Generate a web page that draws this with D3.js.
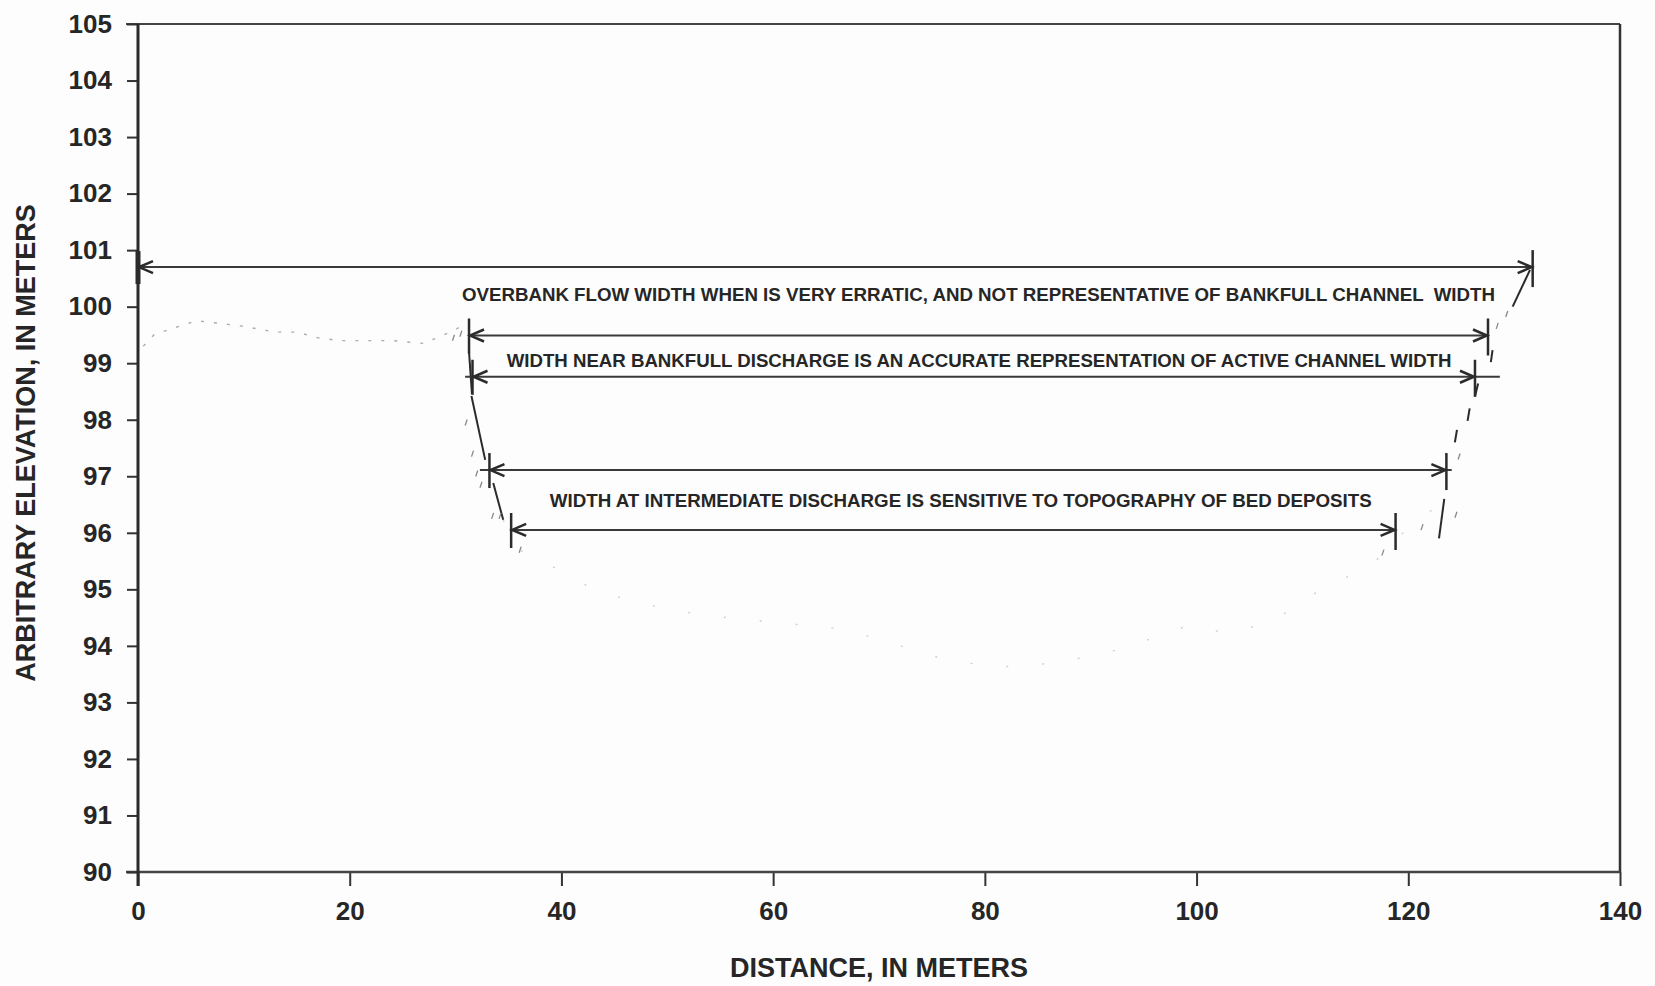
<!DOCTYPE html>
<html>
<head>
<meta charset="utf-8">
<script src="https://cdn.jsdelivr.net/npm/d3@7"></script>
<style>
  html, body { margin: 0; padding: 0; background: #fdfdfd; }
  svg { display: block; }
  text { font-family: "Liberation Sans", Arial, sans-serif; font-weight: bold; fill: #262626; }
</style>
</head>
<body>
<svg id="chart" width="1655" height="986"></svg>
<script>
// Axis ticks
const xTicks = [0, 20, 40, 60, 80, 100, 120, 140];
const yTicks = [90, 91, 92, 93, 94, 95, 96, 97, 98, 99, 100, 101, 102, 103, 104, 105];

// Surveyed cross-section: left floodplain and channel bed (distance m, elevation m)
const floodplainDist = [0.5, 1.5, 3, 5.5, 8, 10, 13, 15, 17, 19, 21, 24, 27, 29.5, 31];
const floodplainElev = [99.3, 99.5, 99.6, 99.75, 99.7, 99.65, 99.55, 99.55, 99.45, 99.4, 99.4, 99.4, 99.35, 99.55, 99.7];
const bedDist = [34.5, 36, 40, 43.5, 50, 54, 60, 66.5, 68.5, 76, 81, 87, 93, 99.4, 102.6, 106.1, 108.6, 111.1, 114, 116.6, 118.8, 121, 122.2];
const bedElev = [96.23, 95.7, 95.32, 94.95, 94.65, 94.53, 94.42, 94.3, 94.2, 93.77, 93.62, 93.7, 93.95, 94.37, 94.23, 94.37, 94.6, 94.92, 95.2, 95.43, 95.9, 96.2, 96.4];

// Inked bank lines, as [distance1, elev1, distance2, elev2]
const bankStrokes = [
  [31.27, 99.2, 31.55, 98.45],
  [31.5, 98.42, 32.8, 97.29],
  [33.56, 96.88, 34.5, 96.23],
  [131.5, 100.65, 129.86, 100.0],
  [127.96, 99.23, 127.8, 99.02],
  [126.6, 98.64, 126.3, 98.41],
  [125.8, 98.2, 125.6, 97.98],
  [124.6, 97.82, 124.4, 97.6],
  [123.4, 96.6, 122.9, 95.9]
];
const bankDots = [
  [29.8, 99.45], [30.5, 99.52], [31.0, 97.95], [31.6, 97.4], [32.0, 97.05], [32.4, 96.85],
  [33.5, 96.3], [34.2, 96.3], [36.1, 95.7], [129.3, 99.87], [128.4, 99.66], [124.8, 97.35],
  [124.5, 96.32], [121.3, 96.1], [117.6, 95.65]
];

// Flow widths: water-surface elevation and left/right edges (m)
const widthNames = ["overbank", "bankfull upper", "bankfull lower", "intermediate upper", "intermediate lower"];
const widthElev = [100.70, 99.49, 98.76, 97.11, 96.05];
const widthLeft = [0, 31.27, 31.6, 33.2, 35.25];
const widthRight = [131.75, 127.53, 126.3, 123.6, 118.8];
const lineLeft = [0, 31.27, 30.9, 32.3, 35.25];
const lineRight = [131.75, 127.53, 128.65, 124.1, 118.8];

// Annotation text
const notes = [
  "OVERBANK FLOW WIDTH WHEN IS VERY ERRATIC, AND NOT REPRESENTATIVE OF BANKFULL CHANNEL  WIDTH",
  "WIDTH NEAR BANKFULL DISCHARGE IS AN ACCURATE REPRESENTATION OF ACTIVE CHANNEL WIDTH",
  "WIDTH AT INTERMEDIATE DISCHARGE IS SENSITIVE TO TOPOGRAPHY OF BED DEPOSITS"
];

const xLabel = "DISTANCE, IN METERS";
const yLabel = "ARBITRARY ELEVATION, IN METERS";

// ---- layout ----
const svg = d3.select("#chart");
const plot = { left: 138, right: 1620, top: 24, bottom: 872 };
const x = d3.scaleLinear().domain([0, 140]).range([plot.left, plot.right]);
const y = d3.scaleLinear().domain([90, 105]).range([plot.bottom, plot.top]);
const ink = "#2b2b2b";

// Note placement (start distance, baseline elevation, end distance)
const notePlace = [
  { x0: 30.6, y: 100.10, x1: 128.19 },
  { x0: 34.83, y: 98.94, x1: 124.08 },
  { x0: 38.9, y: 96.46, x1: 116.54 }
];

// Frame
svg.append("line").attr("x1", plot.left - 12).attr("x2", plot.right)
  .attr("y1", plot.top).attr("y2", plot.top).attr("stroke", "#444").attr("stroke-width", 2);
svg.append("line").attr("x1", plot.right).attr("x2", plot.right)
  .attr("y1", plot.top).attr("y2", plot.bottom).attr("stroke", "#333").attr("stroke-width", 2.5);

// Axes
const xAxis = d3.axisBottom(x).tickValues(xTicks).tickSize(14).tickPadding(16).tickSizeOuter(0);
const gx = svg.append("g").attr("transform", `translate(0,${plot.bottom})`).call(xAxis);
gx.select(".domain").remove();
gx.append("line").attr("x1", plot.left - 12).attr("x2", plot.right).attr("stroke", "#444").attr("stroke-width", 2.5);
gx.selectAll(".tick line").attr("stroke", "#333").attr("stroke-width", 2);
gx.selectAll(".tick text").attr("font-size", 26).attr("fill", "#262626")
  .style("font-family", "'Liberation Sans', Arial, sans-serif").style("font-weight", "bold");

const yAxis = d3.axisLeft(y).tickValues(yTicks).tickSize(11).tickPadding(15).tickSizeOuter(0);
const gy = svg.append("g").attr("transform", `translate(${plot.left},0)`).call(yAxis);
gy.select(".domain").remove();
gy.append("line").attr("y1", plot.top).attr("y2", plot.bottom + 14).attr("stroke", "#2a2a2a").attr("stroke-width", 3);
gy.selectAll(".tick line").attr("stroke", "#333").attr("stroke-width", 2);
gy.selectAll(".tick text").attr("font-size", 26).attr("fill", "#262626")
  .style("font-family", "'Liberation Sans', Arial, sans-serif").style("font-weight", "bold");

// Axis titles
svg.append("text").attr("x", (plot.left + plot.right) / 2).attr("y", 977)
  .attr("text-anchor", "middle").attr("font-size", 27).text(xLabel);
svg.append("text").attr("transform", `translate(26,${(plot.top + plot.bottom) / 2 - 5}) rotate(-90)`)
  .attr("text-anchor", "middle").attr("dominant-baseline", "central").attr("font-size", 27).text(yLabel);

// Cross-section profile (faint survey trace)
const line = d3.line().x(d => x(d[0])).y(d => y(d[1]));
svg.append("path").datum(floodplainDist.map((d, i) => [d, floodplainElev[i]]))
  .attr("d", line).attr("fill", "none").attr("stroke", "#acacac")
  .attr("stroke-width", 1.4).attr("stroke-dasharray", "3 10");
svg.append("path").datum(bedDist.map((d, i) => [d, bedElev[i]]))
  .attr("d", line).attr("fill", "none").attr("stroke", "#cfcfcf")
  .attr("stroke-width", 1.4).attr("stroke-dasharray", "2 34");

svg.append("g").selectAll("line").data(bankStrokes).join("line")
  .attr("x1", d => x(d[0])).attr("y1", d => y(d[1]))
  .attr("x2", d => x(d[2])).attr("y2", d => y(d[3]))
  .attr("stroke", ink).attr("stroke-width", 2);
svg.append("g").selectAll("line").data(bankDots).join("line")
  .attr("x1", d => x(d[0]) - 1).attr("y1", d => y(d[1]) + 3)
  .attr("x2", d => x(d[0]) + 1).attr("y2", d => y(d[1]) - 3)
  .attr("stroke", "#888").attr("stroke-width", 1.3);

// Width dimension lines with end bars and barbed arrowheads
const dims = svg.append("g");
widthElev.forEach((e, i) => {
  const yy = y(e);
  const xl = x(widthLeft[i]), xr = x(widthRight[i]);
  dims.append("line").attr("x1", x(lineLeft[i])).attr("x2", x(lineRight[i]))
    .attr("y1", yy).attr("y2", yy).attr("stroke", "#3a3a3a").attr("stroke-width", 2);
  // end bars
  const leftBar = i === 0 ? [yy - 16, yy + 17] : [yy - 17, yy + 18];
  dims.append("line").attr("x1", xl).attr("x2", xl).attr("y1", leftBar[0]).attr("y2", leftBar[1])
    .attr("stroke", ink).attr("stroke-width", i === 0 ? 5 : 2.5);
  dims.append("line").attr("x1", xr).attr("x2", xr).attr("y1", yy - 17).attr("y2", yy + 20)
    .attr("stroke", ink).attr("stroke-width", 2.5);
  // arrowheads
  dims.append("path").attr("d", `M${xl + 15},${yy - 6}L${xl + 1},${yy}L${xl + 15},${yy + 6}`)
    .attr("fill", "none").attr("stroke", ink).attr("stroke-width", 2.5);
  dims.append("path").attr("d", `M${xr - 15},${yy - 6}L${xr - 1},${yy}L${xr - 15},${yy + 6}`)
    .attr("fill", "none").attr("stroke", ink).attr("stroke-width", 2.5);
});

// Notes
svg.append("g").selectAll("text").data(notes).join("text")
  .attr("x", (d, i) => x(notePlace[i].x0))
  .attr("y", (d, i) => y(notePlace[i].y))
  .attr("textLength", (d, i) => x(notePlace[i].x1) - x(notePlace[i].x0))
  .attr("lengthAdjust", "spacingAndGlyphs")
  .attr("font-size", 19)
  .style("white-space", "pre")
  .text(d => d);
</script>
</body>
</html>
